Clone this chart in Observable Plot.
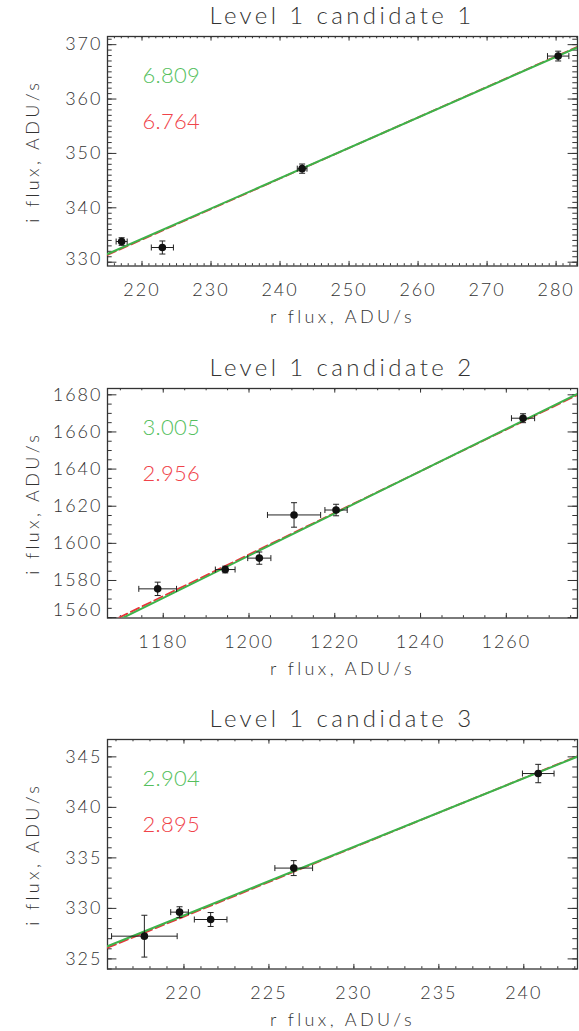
<!DOCTYPE html>
<html><head><meta charset="utf-8">
<script src="https://cdn.jsdelivr.net/npm/d3@7"></script>
<script src="https://cdn.jsdelivr.net/npm/@observablehq/plot@0.6"></script>
<style>
body{margin:0;background:#fff;width:579px;height:1031px;overflow:hidden;font-family:Lato,"DejaVu Sans",sans-serif;}
.panel{position:absolute;left:0;width:579px;height:352px;}
.title{position:absolute;left:107px;width:470px;top:0;height:30px;line-height:30px;text-align:center;font-size:24px;font-weight:300;letter-spacing:3.4px;color:#333;white-space:nowrap;}
.panel svg{position:absolute;left:0;top:30px;}
</style></head><body><div id="root"></div>
<script>
const titles = ["Level 1 candidate 1", "Level 1 candidate 2", "Level 1 candidate 3"];
const xLabel = "r flux, ADU/s";
const yLabel = "i flux, ADU/s";
const greenSlopes = ["6.809", "3.005", "2.904"];
const redSlopes = ["6.764", "2.956", "2.895"];

// Panel 1 data
const rFlux1 = [217.05, 222.95, 243.2, 280.3];
const rErr1  = [0.8, 1.6, 0.7, 1.55];
const iFlux1 = [333.8, 332.7, 347.2, 367.9];
const iErr1  = [0.7, 1.2, 0.85, 0.9];
const fitX1 = [215, 283.1];
const greenY1 = [331.5, 369.5];
const redY1 = [331.35, 369.6];
const xDomain1 = [215, 283.1];
const yDomain1 = [329.3, 371.5];
const xTicks1 = [220, 230, 240, 250, 260, 270, 280];
const yTicks1 = [330, 340, 350, 360, 370];

// Panel 2 data
const rFlux2 = [1178.7, 1194.45, 1202.4, 1210.5, 1220.3, 1263.9];
const rErr2  = [4.4, 2.3, 2.7, 6.2, 2.6, 2.7];
const iFlux2 = [1575.5, 1585.9, 1592.05, 1615.3, 1617.95, 1667.4];
const iErr2  = [3.6, 1.8, 3.3, 6.6, 3.1, 2.4];
const fitX2 = [1167, 1277];
const greenY2 = [1555.8, 1681.0];
const redY2 = [1557.0, 1680.4];
const xDomain2 = [1167, 1276.6];
const yDomain2 = [1559.8, 1683.4];
const xTicks2 = [1180, 1200, 1220, 1240, 1260];
const yTicks2 = [1560, 1580, 1600, 1620, 1640, 1660, 1680];

// Panel 3 data
const rFlux3 = [217.67, 219.74, 221.57, 226.46, 240.85];
const rErr3  = [1.93, 0.52, 0.96, 1.11, 0.93];
const iFlux3 = [327.25, 329.63, 328.9, 333.99, 343.35];
const iErr3  = [2.07, 0.53, 0.69, 0.74, 0.91];
const fitX3 = [215.5, 243.2];
const greenY3 = [326.25, 345.05];
const redY3 = [326.1, 345.1];
const xDomain3 = [215.5, 243.16];
const yDomain3 = [324.0, 346.72];
const xTicks3 = [220, 225, 230, 235, 240];
const yTicks3 = [325, 330, 335, 340, 345];

const minorSteps = [[1, 1], [5, 5], [1, 1]]; // [x minor step, y minor step]
const bottomLabelShift = [-2.7, -7.4, 0];

const panels = [
  {r: rFlux1, re: rErr1, i: iFlux1, ie: iErr1, fx: fitX1, gy: greenY1, ry: redY1, xd: xDomain1, yd: yDomain1, xt: xTicks1, yt: yTicks1},
  {r: rFlux2, re: rErr2, i: iFlux2, ie: iErr2, fx: fitX2, gy: greenY2, ry: redY2, xd: xDomain2, yd: yDomain2, xt: xTicks2, yt: yTicks2},
  {r: rFlux3, re: rErr3, i: iFlux3, ie: iErr3, fx: fitX3, gy: greenY3, ry: redY3, xd: xDomain3, yd: yDomain3, xt: xTicks3, yt: yTicks3}
];
const panelTops = [0, 351.7, 703.3];

const GREEN = "#3db34a", RED = "#e8343a", GREEN_T = "#55bf5e", RED_T = "#f0434a", INK = "#333";
const W = 579, ML = 107, MR = 2, MT = 6, FH = 229.5, SVGH = 321;
const FW = W - ML - MR;

function minors(dom, step) {
  const a = Math.ceil(dom[0] / step - 1e-9), b = Math.floor(dom[1] / step + 1e-9);
  return d3.range(a, b + 1).map(k => +(k * step).toFixed(6));
}
const capV = {draw(ctx) { ctx.moveTo(0, -3); ctx.lineTo(0, 3); }};
const capH = {draw(ctx) { ctx.moveTo(-3, 0); ctx.lineTo(3, 0); }};

const root = document.getElementById("root");
panels.forEach((p, k) => {
  const data = p.r.map((r, j) => ({x: r, xe: p.re[j], y: p.i[j], ye: p.ie[j]}));
  const fit = p.fx.map((x, j) => ({x, g: p.gy[j], r: p.ry[j]}));
  const [xs, ys] = minorSteps[k];
  const xm = minors(p.xd, xs), ym = minors(p.yd, ys);
  const tickStyle = {stroke: INK, strokeWidth: 1};
  const yAxisOpts = {anchor: "left", tickSize: 0, tickPadding: 5, label: null, tickFormat: d => String(d)};
  const chart = Plot.plot({
    width: W, height: SVGH,
    marginLeft: ML, marginRight: MR, marginTop: MT, marginBottom: SVGH - MT - FH,
    x: {domain: p.xd}, y: {domain: p.yd},
    style: {fontFamily: "Lato, 'DejaVu Sans', sans-serif", fontSize: "18px", fontWeight: 300, color: INK, letterSpacing: "2px", background: "white"},
    marks: [
      // minor ticks
      Plot.tickX(xm, {x: d => d, insetTop: FH - 2.3, ...tickStyle}),
      Plot.tickX(xm, {x: d => d, insetBottom: FH - 2.3, ...tickStyle}),
      Plot.tickY(ym, {y: d => d, insetRight: FW - 4.7, ...tickStyle}),
      Plot.tickY(ym, {y: d => d, insetLeft: FW - 4.7, ...tickStyle}),
      // major ticks
      Plot.tickX(p.xt, {x: d => d, insetTop: FH - 4.6, ...tickStyle}),
      Plot.tickX(p.xt, {x: d => d, insetBottom: FH - 4.6, ...tickStyle}),
      Plot.tickY(p.yt, {y: d => d, insetRight: FW - 9.4, ...tickStyle}),
      Plot.tickY(p.yt, {y: d => d, insetLeft: FW - 9.4, ...tickStyle}),
      Plot.axisX(p.xt, {anchor: "bottom", tickSize: 0, tickPadding: 17, label: null, tickFormat: d => String(d)}),
      Plot.axisY(p.yt.slice(1), yAxisOpts),
      Plot.axisY(p.yt.slice(0, 1), {...yAxisOpts, dy: bottomLabelShift[k]}),
      Plot.frame({stroke: INK, strokeWidth: 1.3}),
      // fits
      Plot.line(fit, {x: "x", y: "r", stroke: RED, strokeWidth: 1.8, strokeDasharray: "9,4", clip: true}),
      Plot.line(fit, {x: "x", y: "g", stroke: GREEN, strokeWidth: 2, clip: true}),
      // error bars
      Plot.link(data, {x1: d => d.x - d.xe, x2: d => d.x + d.xe, y1: "y", y2: "y", stroke: "#222", strokeWidth: 1}),
      Plot.link(data, {x1: "x", x2: "x", y1: d => d.y - d.ye, y2: d => d.y + d.ye, stroke: "#222", strokeWidth: 1}),
      Plot.dot(data, {x: d => d.x - d.xe, y: "y", symbol: capV, fill: "none", stroke: "#222", strokeWidth: 1}),
      Plot.dot(data, {x: d => d.x + d.xe, y: "y", symbol: capV, fill: "none", stroke: "#222", strokeWidth: 1}),
      Plot.dot(data, {x: "x", y: d => d.y - d.ye, symbol: capH, fill: "none", stroke: "#222", strokeWidth: 1}),
      Plot.dot(data, {x: "x", y: d => d.y + d.ye, symbol: capH, fill: "none", stroke: "#222", strokeWidth: 1}),
      Plot.dot(data, {x: "x", y: "y", r: 3.8, fill: "#111", stroke: "none"}),
      // slope labels
      Plot.text([greenSlopes[k]], {frameAnchor: "top-left", dx: 35, dy: 39, textAnchor: "start", lineAnchor: "middle", fill: GREEN_T, fontSize: 22, text: d => d}),
      Plot.text([redSlopes[k]], {frameAnchor: "top-left", dx: 35, dy: 85, textAnchor: "start", lineAnchor: "middle", fill: RED_T, fontSize: 22, text: d => d}),
      // axis labels
      Plot.text([xLabel], {frameAnchor: "bottom", dy: 51.3, textAnchor: "middle", lineAnchor: "middle", fill: INK, text: d => d}),
      Plot.text([yLabel], {frameAnchor: "left", dx: -74, rotate: -90, textAnchor: "middle", lineAnchor: "middle", fill: INK, text: d => d})
    ]
  });
  // letter spacing tweaks
  d3.select(chart).selectAll("text").each(function() {
    const s = this.textContent;
    if (s === xLabel || s === yLabel) this.style.letterSpacing = "3.4px";
    else if (s === greenSlopes[k] || s === redSlopes[k]) this.style.letterSpacing = "0.3px";
  });
  const div = document.createElement("div");
  div.className = "panel";
  div.style.top = panelTops[k] + "px";
  const t = document.createElement("div");
  t.className = "title";
  t.textContent = titles[k];
  div.appendChild(t);
  div.appendChild(chart);
  root.appendChild(div);
});
</script></body></html>
